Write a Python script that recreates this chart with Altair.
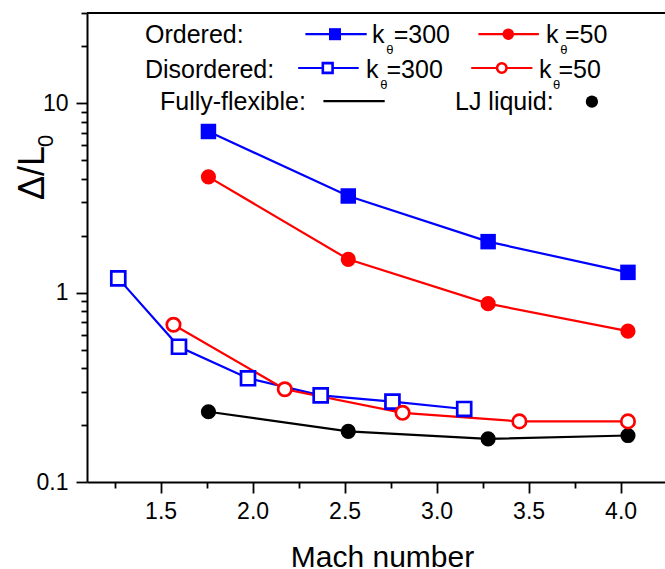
import altair as alt
import pandas as pd

# ---- data: Mach number vs. normalised shock width Δ/L0 ----
mach_ordered = [1.76, 2.52, 3.28, 4.04]
ordered_k300 = [7.1, 3.24, 1.86, 1.28]
ordered_k50 = [4.09, 1.50, 0.875, 0.626]

mach_dis_k300 = [1.27, 1.60, 1.975, 2.37, 2.76, 3.15]
disordered_k300 = [1.19, 0.518, 0.353, 0.287, 0.266, 0.243]

mach_dis_k50 = [1.57, 2.175, 2.815, 3.45, 4.04]
disordered_k50 = [0.677, 0.309, 0.232, 0.209, 0.209]

mach_flex = [1.76, 2.52, 3.28, 4.04]
fully_flexible = [0.235, 0.185, 0.169, 0.176]
lj_liquid = [0.235, 0.185, 0.169, 0.176]

x_major = [1.5, 2.0, 2.5, 3.0, 3.5, 4.0]
x_minor = [1.25, 1.75, 2.25, 2.75, 3.25, 3.75]
y_major = [0.1, 1, 10]
y_minor = [0.2, 0.3, 0.4, 0.5, 0.6, 0.7, 0.8, 0.9,
           2, 3, 4, 5, 6, 7, 8, 9, 20, 30]

# ---- layout ----
W, H = 578, 469
FONT = "Liberation Sans"
BLUE, RED, BLACK = "#0000ff", "#ff0000", "#000000"

x_scale = alt.Scale(type="linear", domain=[1.1, 4.2413], nice=False, zero=False)
y_scale = alt.Scale(type="log", domain=[0.1, 30], nice=False)

axis_common = dict(grid=False, domainColor=BLACK, tickColor=BLACK,
                   labelColor=BLACK, labelFont=FONT, titleFont=FONT,
                   titleColor=BLACK, titleFontWeight="normal")

x_axis_major = alt.Axis(orient="bottom", values=x_major, format=".1f",
                        tickSize=11, tickWidth=1.8, domainWidth=2,
                        labelFontSize=23, labelPadding=7,
                        title="Mach number", titleFontSize=30,
                        titleX=295, titleY=84.7, titleAlign="center",
                        titleBaseline="alphabetic", **axis_common)
y_axis_major = alt.Axis(orient="left", values=y_major, format="~g",
                        tickSize=11, tickWidth=1.8, domainWidth=2,
                        labelFontSize=23, labelPadding=8, title=None,
                        **axis_common)
x_axis_minor = alt.Axis(orient="bottom", values=x_minor, tickSize=6,
                        tickWidth=1.8, labels=False, domain=False,
                        title=None, **axis_common)
y_axis_minor = alt.Axis(orient="left", values=y_minor, tickSize=6,
                        tickWidth=1.8, labels=False, domain=False,
                        title=None, **axis_common)


def frame(mach, vals):
    return pd.DataFrame({"mach": mach, "val": vals})


def enc(xa=None, ya=None):
    return dict(
        x=alt.X("mach:Q", scale=x_scale, axis=xa),
        y=alt.Y("val:Q", scale=y_scale, axis=ya),
    )


flex_df = frame(mach_flex, fully_flexible)
lj_df = frame(mach_flex, lj_liquid)
ok300 = frame(mach_ordered, ordered_k300)
ok50 = frame(mach_ordered, ordered_k50)
dk300 = frame(mach_dis_k300, disordered_k300)
dk50 = frame(mach_dis_k50, disordered_k50)

flex_line = alt.Chart(flex_df).mark_line(color=BLACK, strokeWidth=2.2).encode(
    **enc(x_axis_major, y_axis_major))
ok300_line = alt.Chart(ok300).mark_line(color=BLUE, strokeWidth=2.2).encode(
    **enc(x_axis_minor, y_axis_minor))
ok50_line = alt.Chart(ok50).mark_line(color=RED, strokeWidth=2.2).encode(**enc())
dk300_line = alt.Chart(dk300).mark_line(color=BLUE, strokeWidth=2.2).encode(**enc())
dk50_line = alt.Chart(dk50).mark_line(color=RED, strokeWidth=2.2).encode(**enc())

lj_pts = alt.Chart(lj_df).mark_point(shape="circle", filled=True, color=BLACK,
                                     size=230, opacity=1).encode(**enc())
ok300_pts = alt.Chart(ok300).mark_point(shape="square", filled=True, color=BLUE,
                                        size=240, opacity=1).encode(**enc())
ok50_pts = alt.Chart(ok50).mark_point(shape="circle", filled=True, color=RED,
                                      size=230, opacity=1).encode(**enc())
dk300_pts = alt.Chart(dk300).mark_point(shape="square", filled=True, fill="white",
                                        stroke=BLUE, strokeWidth=2.7, size=195,
                                        opacity=1).encode(**enc())
dk50_pts = alt.Chart(dk50).mark_point(shape="circle", filled=True, fill="white",
                                      stroke=RED, strokeWidth=2.7, size=180,
                                      opacity=1).encode(**enc())

# top border of the frame
top_border = alt.Chart(flex_df).mark_rule(color=BLACK, strokeWidth=2).encode(
    x=alt.value(0), x2=alt.value(W), y=alt.value(0))

# ---- legend (positions in pixels inside the plot area) ----
legend_labels = pd.DataFrame({
    "px": [58, 58, 73, 368, 285, 306.7, 459.1, 477.9, 279, 299.5, 451.9, 471.4],
    "py": [29.7, 64.7, 97, 97, 29.7, 29.7, 29.7, 29.7, 64.7, 64.7, 64.7, 64.7],
    "text": ["Ordered:", "Disordered:", "Fully-flexible:", "LJ liquid:",
             "k", "=300", "k", "=50", "k", "=300", "k", "=50"],
})
legend_subs = pd.DataFrame({
    "px": [299.3, 473.3, 293.3, 466.1],
    "py": [40.7, 40.7, 75.7, 75.7],
    "text": ["θ", "θ", "θ", "θ"],
})
legend_rules = pd.DataFrame({
    "px": [218.4, 391.4, 211.2, 384.2, 236.4],
    "px2": [279.7, 451.9, 271.7, 445.4, 297.7],
    "py": [21.2, 21.2, 55, 55, 88.2],
    "col": [BLUE, RED, BLUE, RED, BLACK],
})
legend_marks = pd.DataFrame({
    "px": [248, 421.3, 240.7, 414.8, 504.9],
    "py": [21.2, 21.2, 55, 55, 88.7],
    "kind": ["osq", "oci", "dsq", "dci", "lj"],
})


def pix(df):
    return alt.Chart(df)


px_x = alt.X("px:Q", scale=None, axis=None)
px_y = alt.Y("py:Q", scale=None, axis=None)

leg_text = pix(legend_labels).mark_text(
    font=FONT, fontSize=25, align="left", baseline="alphabetic", color=BLACK
).encode(x=px_x, y=px_y, text="text:N")
leg_sub = pix(legend_subs).mark_text(
    font=FONT, fontSize=13, align="left", baseline="alphabetic", color=BLACK
).encode(x=px_x, y=px_y, text="text:N")
leg_rule = pix(legend_rules).mark_rule(strokeWidth=2.2).encode(
    x=px_x, x2="px2:Q", y=px_y, color=alt.Color("col:N", scale=None))

leg_osq = pix(legend_marks[legend_marks.kind == "osq"]).mark_point(
    shape="square", filled=True, color=BLUE, size=145, opacity=1).encode(x=px_x, y=px_y)
leg_oci = pix(legend_marks[legend_marks.kind == "oci"]).mark_point(
    shape="circle", filled=True, color=RED, size=135, opacity=1).encode(x=px_x, y=px_y)
leg_dsq = pix(legend_marks[legend_marks.kind == "dsq"]).mark_point(
    shape="square", filled=True, fill="white", stroke=BLUE, strokeWidth=2.6,
    size=95, opacity=1).encode(x=px_x, y=px_y)
leg_dci = pix(legend_marks[legend_marks.kind == "dci"]).mark_point(
    shape="circle", filled=True, fill="white", stroke=RED, strokeWidth=2.6,
    size=90, opacity=1).encode(x=px_x, y=px_y)
leg_lj = pix(legend_marks[legend_marks.kind == "lj"]).mark_point(
    shape="circle", filled=True, color=BLACK, size=150, opacity=1).encode(x=px_x, y=px_y)

# ---- y-axis title Δ/L0 (rotated, with subscript) ----
ytitle = pd.DataFrame({"px": [-43.5], "py": [187], "text": ["Δ/L"]})
ytitle_sub = pd.DataFrame({"px": [-33.7], "py": [134], "text": ["0"]})
yt = pix(ytitle).mark_text(font=FONT, fontSize=36, angle=270, align="left",
                           baseline="alphabetic", color=BLACK).encode(
    x=px_x, y=px_y, text="text:N")
yt_sub = pix(ytitle_sub).mark_text(font=FONT, fontSize=22, angle=270, align="left",
                                   baseline="alphabetic", color=BLACK).encode(
    x=px_x, y=px_y, text="text:N")

chart = alt.layer(
    flex_line, ok300_line, ok50_line, dk300_line, dk50_line,
    lj_pts, ok300_pts, ok50_pts, dk300_pts, dk50_pts,
    top_border,
    leg_rule, leg_osq, leg_oci, leg_dsq, leg_dci, leg_lj, leg_text, leg_sub,
    yt, yt_sub,
).resolve_axis(x="independent", y="independent").properties(
    width=W, height=H,
    autosize=alt.AutoSizeParams(type="none"),
    padding={"left": 87, "top": 13, "right": 0, "bottom": 87},
    background="white",
).configure_view(stroke=None)

chart.save("out.html", embed_options={"renderer": "svg", "actions": False})
